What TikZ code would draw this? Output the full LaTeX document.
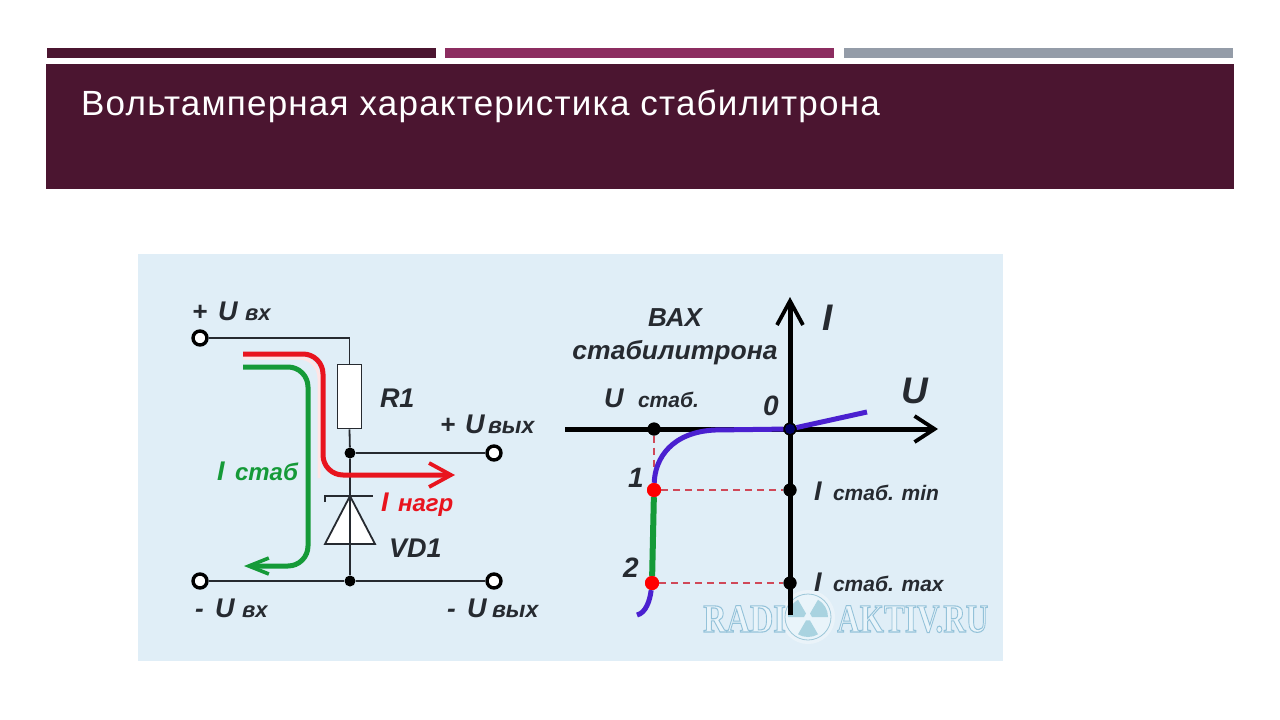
\documentclass[tikz,border=0pt]{standalone}
\usepackage{fontspec}
\setmainfont{Liberation Sans}
\newfontfamily\titlefont[LetterSpace=3.5]{Liberation Sans}
\newfontfamily\markfont{Liberation Serif}
\usetikzlibrary{arrows.meta}
\definecolor{plum}{HTML}{4B1530}
\definecolor{berry}{HTML}{8C2D60}
\definecolor{slate}{HTML}{949CA8}
\definecolor{pale}{HTML}{E0EEF7}
\definecolor{ink}{HTML}{262A30}
\definecolor{curr}{HTML}{E8141E}
\definecolor{stab}{HTML}{159A38}
\definecolor{vio}{HTML}{4A20D0}
\definecolor{dash}{HTML}{D04858}
\definecolor{blade}{HTML}{A9D3E0}
\definecolor{mkline}{HTML}{9CC6D8}
\definecolor{mkfill}{HTML}{E9F4FA}
\newcommand{\fsz}[1]{\fontsize{#1}{#1}\selectfont}
\tikzset{
  lab/.style={anchor=base west,inner sep=0pt,outer sep=0pt,text=ink,font=\bfseries\itshape\fsz{#1}},
  lab/.default=20,
  term/.style={circle,draw=black,fill=white,line width=3.4pt,minimum size=14pt,inner sep=0pt},
  jun/.style={circle,fill=black,minimum size=11pt,inner sep=0pt},
  ptb/.style={circle,fill=black,minimum size=13pt,inner sep=0pt},
  ptr/.style={circle,fill=red,minimum size=14pt,inner sep=0pt},
  wire/.style={draw=ink,line width=1.8pt},
  axisl/.style={draw=black,line width=5pt,-{Straight Barb[length=#1,width=26pt,line width=3.8pt]}},
  guide/.style={draw=dash,line width=1.2pt,dash pattern=on 7pt off 5pt},
  flow/.style={line width=5pt,rounded corners=#1},
  wmark/.style={anchor=base west,inner sep=0pt,text=mkfill,font=\markfont\bfseries\fsz{40}},
}
\begin{document}
\begin{tikzpicture}[x=1pt,y=-1pt]
\useasboundingbox (0,0) rectangle (1280,720);
\fill[white] (0,0) rectangle (1280,720);
% header
\fill[plum] (47,48) rectangle (436,58);
\fill[berry] (445,48) rectangle (834,58);
\fill[slate] (844,48) rectangle (1233,58);
\fill[plum] (46,64) rectangle (1234,189);
\node[anchor=base west,inner sep=0pt,text=white,font=\titlefont\fsz{35}] (title) at (81,115) {Вольтамперная характеристика стабилитрона};
% picture ground
\fill[pale] (138,254) rectangle (1003,661);
% watermark
\fill[white,opacity=.35] (808,617) circle[radius=27];
\fill[mkfill,draw=mkline,line width=.8pt] (808,617) circle[radius=23];
\foreach \a in {-150,-30,90}{
  \fill[blade] ([shift={(\a-30:4)}]808,617) -- ([shift={(\a-30:20)}]808,617) arc[start angle=\a-30,end angle=\a+30,radius=20] -- ([shift={(\a+30:4)}]808,617) -- cycle;
}
\node[wmark,xscale=.81] (wm1) at (703,632) {\special{pdf:code 2 Tr 1.1 w 0.58 0.76 0.85 RG}RADI\special{pdf:code 0 Tr}};
\node[wmark,xscale=.78] (wm2) at (837,632) {\special{pdf:code 2 Tr 1.1 w 0.58 0.76 0.85 RG}AKTIV.RU\special{pdf:code 0 Tr}};
% circuit nodes
\node[term] (tin) at (200,338) {};
\node[term] (tbl) at (200,581) {};
\node[term] (tout) at (494,453) {};
\node[term] (tbr) at (494,581) {};
\node[jun] (jt) at (350,453) {};
\node[jun] (jb) at (350,581) {};
\node[draw=ink,fill=white,line width=1.8pt,minimum width=24pt,minimum height=64pt,inner sep=0pt] (r1) at (349.5,396.5) {};
\coordinate (cath) at (350,496);
\coordinate (an1) at (325,544);
\coordinate (an2) at (375,544);
\coordinate (b1) at (325,502);
\coordinate (b2) at (325,496);
\coordinate (b3) at (373,496);
% wires
\draw[wire] (tin) -| (r1.north);
\draw[wire] (r1.south) -- (jt) -- (cath);
\draw[wire] (jt) -- (tout);
\draw[wire] (tbl) -- (jb) -- (tbr);
\filldraw[wire,fill=white] (cath) -- (an2) -- (an1) -- cycle;
\draw[wire] (b1) -- (b2) -- (b3);
\draw[wire] (cath) -- (jb);
% current paths
\coordinate (rs) at (243,354);
\coordinate (rm) at (323,475);
\coordinate (re) at (455,475);
\coordinate (gs) at (243,367);
\coordinate (gm) at (308,566);
\coordinate (ge) at (244,566);
\draw[white!60!pink,line width=3pt,rounded corners=20pt] (243,358) -| (319,478);
\draw[curr,flow=20pt,-{Straight Barb[length=22pt,width=24pt,line width=3.8pt]}] (rs) -| (rm) -- (re);
\draw[stab,flow=20pt,-{Straight Barb[length=20pt,width=16pt,line width=3.6pt]}] (gs) -| (gm) -- (ge);
% circuit labels
\node[lab=26] (p1) at (192,320) {+};
\node[lab=27] (u1) at (218,320) {U};
\node[lab=22] (v1) at (245,320) {вх};
\node[lab=26] (p2) at (440,433) {+};
\node[lab=27] (u2) at (465,433) {U};
\node[lab=23] (v2) at (488,433) {вых};
\node[lab=26] (m1) at (195,617) {-};
\node[lab=27] (u3) at (215,617) {U};
\node[lab=22] (v3) at (242,617) {вх};
\node[lab=26] (m2) at (447,617) {-};
\node[lab=27] (u4) at (467,617) {U};
\node[lab=23] (v4) at (492,617) {вых};
\node[lab=27] (r1l) at (380,407) {R1};
\node[lab=27] (vd1) at (389,557) {VD1};
\node[lab=27,text=stab] (ist) at (217,480) {I};
\node[lab=24,text=stab] (ist2) at (235,480) {стаб};
\node[lab=27,text=curr] (ina) at (381,511) {I};
\node[lab=24,text=curr] (ina2) at (398,511) {нагр};
% plot
\node[ptb] (o) at (790,429) {};
\node[ptb] (us) at (654,429) {};
\node[ptb] (imin) at (790,490) {};
\node[ptb] (imax) at (790,583) {};
\node[ptr] (p1pt) at (654,490) {};
\node[ptr] (p2pt) at (652,583) {};
\coordinate (xs) at (565,429);
\coordinate (xe) at (938,429);
\coordinate (ys) at (790,615);
\coordinate (ye) at (790,297);
\coordinate (cs) at (637,615);
\coordinate (ce) at (867,412);
\draw[guide] (us) -- (p1pt);
\draw[guide] (p1pt) -- (imin);
\draw[guide] (p2pt) -- (imax);
\draw[axisl=20pt] (xs) -- (xe);
\draw[axisl=24pt] (ys) -- (ye);
\fill[black] (o) circle[radius=6.5] (us) circle[radius=6.5] (imin) circle[radius=6.5] (imax) circle[radius=6.5];
\draw[vio,line width=5pt] (cs) .. controls (646,613) and (650,600) .. (p2pt);
\draw[vio,line width=5pt] (p1pt) .. controls (655,458) and (672,432) .. (715,430) -- (o) -- (ce);
\fill[black!60!blue] (o) circle[radius=5];
\draw[stab,line width=6pt] (p1pt) -- (p2pt);
\fill[red] (p1pt) circle[radius=7] (p2pt) circle[radius=7];
% plot labels
\node[lab=26,anchor=base] (bax) at (675,326) {ВАХ};
\node[lab=26,anchor=base,xscale=1.02] (sl) at (675,359) {стабилитрона};
\node[lab=37] (ui) at (822,330) {I};
\node[lab=37] (uu) at (901,403) {U};
\node[lab=27] (us1) at (604,407) {U};
\node[lab=21] (us2) at (638,407) {стаб.};
\node[lab=28] (zero) at (763,415) {0};
\node[lab=28] (one) at (628,487) {1};
\node[lab=28] (two) at (623,577) {2};
\node[lab=27] (mi1) at (814,500) {I};
\node[lab=21] (mi2) at (833,500) {стаб. min};
\node[lab=27] (ma1) at (814,591) {I};
\node[lab=21] (ma2) at (833,591) {стаб. max};
\end{tikzpicture}
\end{document}
